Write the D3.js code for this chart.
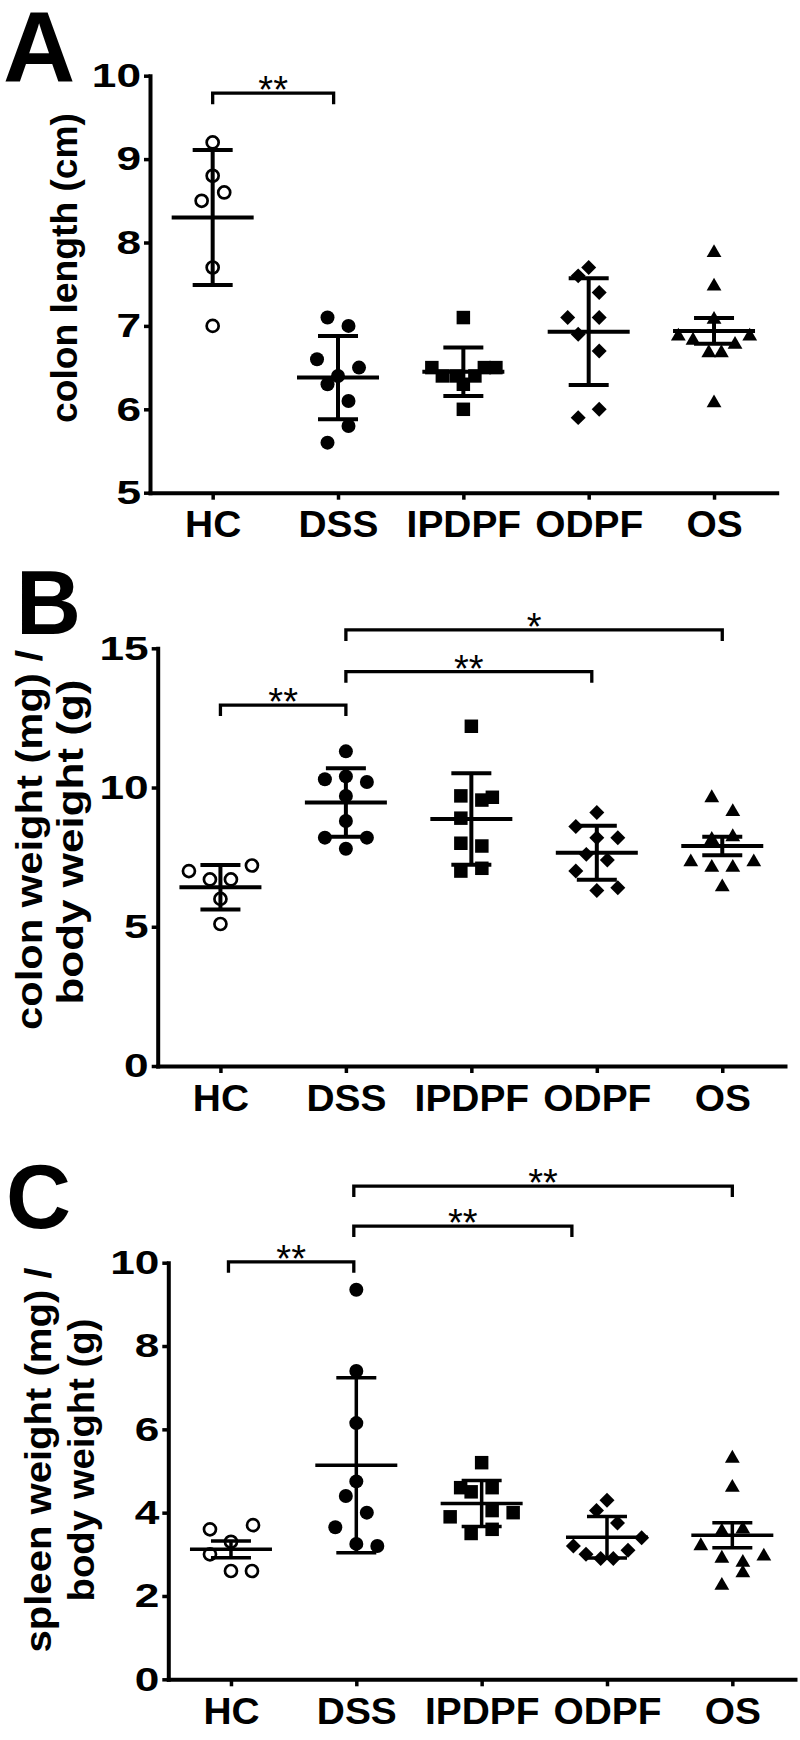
<!DOCTYPE html>
<meta charset="utf-8">
<html>
<head>
<script src="https://cdn.jsdelivr.net/npm/d3@7"></script>
<style>
  body { margin: 0; background: #fff; }
  svg text { font-family: "Liberation Sans", Arial, Helvetica, sans-serif; fill: #000; }
</style>
</head>
<body>
<div id="chart"></div>
<script>
// groups on the x axis
var groups = ["HC", "DSS", "IPDPF", "ODPF", "OS"];

// ---- A: colon length (cm) -- each point is [value, lane] (lane = slot in the scatter row)
var lenHC    = [[9.2,0],[8.8,0],[8.6,1.1],[8.5,-1.05],[7.7,0],[7.0,0]];
var lenDSS   = [[7.1,-1],[7.0,1],[6.6,-2],[6.5,2],[6.4,0],[6.3,-1],[6.1,1],[5.8,1],[5.6,-1]];
var lenIPDPF = [[7.1,0],[6.5,-3],[6.5,2],[6.5,3.1],[6.4,-2],[6.4,-0.7],[6.4,1.1],[6.3,0],[6.0,0]];
var lenODPF  = [[7.7,0],[7.6,-1],[7.4,1],[7.1,-2],[7.1,1],[6.9,-1],[6.7,1],[6.0,1],[5.9,-1]];
var lenOS    = [[7.9,0],[7.5,0],[7.1,0],[6.9,-3.4],[6.85,-2],[6.9,3.4],[6.8,2],[6.7,-0.5],[6.7,0.7],[6.1,0]];
var lenMean  = [8.30, 6.38, 6.45, 6.93, 6.94];
var lenErr   = [0.81, 0.50, 0.29, 0.64, 0.155];
var lenTicks = [5, 6, 7, 8, 9, 10];
var lenBrackets = [[0, 0.965, 9.79, "**"]];   // [from index, to index, value, label]

// ---- B: colon weight / body weight
var cwHC    = [[7.0,-3],[7.2,3],[6.7,-1],[6.7,1],[6.0,0],[5.1,0]];
var cwDSS   = [[11.3,0],[10.4,0],[10.3,-2],[10.2,2],[9.7,0],[8.8,0],[8.2,-2],[8.2,2],[7.8,0]];
var cwIPDPF = [[12.2,0],[9.7,-1],[9.55,1],[9.65,2],[8.9,-1],[8.0,-1],[7.9,1],[7.0,-1],[7.1,1]];
var cwODPF  = [[9.1,0],[8.6,-2],[8.2,2],[8.2,0],[7.6,-1],[7.4,1],[7.0,-2],[6.3,0],[6.4,2]];
var cwOS    = [[9.7,-1],[9.2,1],[8.3,1],[8.2,-1],[7.4,-3],[7.2,-1],[7.2,1],[7.4,3],[6.5,0]];
var cwMean  = [6.42, 9.46, 8.87, 7.66, 7.90];
var cwErr   = [0.80, 1.23, 1.64, 0.97, 0.33];
var cwTicks = [0, 5, 10, 15];
var cwBrackets = [[0, 1, 12.96, "**"], [1, 2.96, 14.16, "**"], [1, 4, 15.66, "*"]];

// ---- C: spleen weight / body weight
var swHC    = [[3.6,-2],[3.7,2.1],[3.3,0],[3.0,-2],[2.6,0],[2.6,2]];
var swDSS   = [[9.35,0],[7.4,0],[6.15,0],[4.75,0],[4.4,-1],[4.0,1],[3.65,-2],[3.25,0],[3.2,2]];
var swIPDPF = [[5.2,0],[4.6,-2],[4.6,1],[4.5,-1],[4.05,1],[4.0,3],[3.9,-3],[3.6,1],[3.5,-1]];
var swODPF  = [[4.3,0],[4.05,-1],[3.75,1],[3.4,3.3],[3.2,-3.2],[3.0,-2],[2.9,-0.6],[2.9,0.6],[3.1,2]];
var swOS    = [[5.35,0],[4.65,0],[3.6,-1],[3.65,1],[3.25,-3],[3.0,3],[2.95,-1],[2.85,1],[2.6,1],[2.3,-1]];
var swMean  = [3.12, 5.14, 4.22, 3.41, 3.46];
var swErr   = [0.20, 2.10, 0.55, 0.50, 0.30];
var swTicks = [0, 2, 4, 6, 8, 10];
var swBrackets = [[-0.02, 0.98, 10.02, "**"], [0.98, 2.72, 10.88, "**"], [0.98, 4, 11.84, "**"]];

var LANE = 10.5;

var svg = d3.select("#chart").append("svg")
    .attr("width", 800)
    .attr("height", 1740);

// widen text along its reading direction
function stretch(sel, k) {
  sel.each(function() {
    var w = this.getComputedTextLength();
    d3.select(this).attr("textLength", w * k).attr("lengthAdjust", "spacingAndGlyphs");
  });
}

function marker(g, group, cx, cy) {
  if (group == "HC") {
    g.append("circle").attr("cx", cx).attr("cy", cy).attr("r", 6)
      .attr("fill", "#fff").attr("stroke", "#000").attr("stroke-width", 2.7);
  } else if (group == "DSS") {
    g.append("circle").attr("cx", cx).attr("cy", cy).attr("r", 7).attr("fill", "#000");
  } else if (group == "IPDPF") {
    g.append("path").attr("d", d3.symbol(d3.symbolSquare, 182)())
      .attr("transform", "translate(" + cx + "," + cy + ")");
  } else if (group == "ODPF") {
    g.append("path").attr("d", d3.symbol(d3.symbolSquare, 112)())
      .attr("transform", "translate(" + cx + "," + cy + ") rotate(45)");
  } else {
    g.append("path").attr("d", d3.symbol(d3.symbolTriangle, 95)())
      .attr("transform", "translate(" + cx + "," + (cy + 2) + ")");
  }
}

function drawPanel(p) {
  var g = svg.append("g");
  var x = d3.scalePoint().domain(groups).range(p.xRange).padding(0.5);
  var y = d3.scaleLinear().domain(p.yDomain).range(p.yRange);
  var x0 = p.xRange[0], yBase = p.yRange[0];

  // axes
  var ya = g.append("g").attr("transform", "translate(" + x0 + ",0)")
    .call(d3.axisLeft(y).tickValues(p.ticks).tickFormat(d3.format("d"))
      .tickSize(6).tickSizeOuter(0).tickPadding(3));
  var xa = g.append("g").attr("transform", "translate(0," + yBase + ")")
    .call(d3.axisBottom(x).tickSize(7).tickSizeOuter(0).tickPadding(12));
  [ya, xa].forEach(function(a) {
    a.select(".domain").attr("stroke-width", 4).attr("stroke-linecap", "square");
    a.selectAll(".tick line").attr("stroke-width", 3.5);
    a.selectAll("text").attr("font-weight", "bold").attr("fill", "#000");
  });
  ya.selectAll("text").attr("font-size", 34).call(stretch, 1.3);
  xa.selectAll("text").attr("font-size", 36).call(stretch, 1.08);

  // points
  p.points.forEach(function(arr, i) {
    arr.forEach(function(d) {
      marker(g, groups[i], x(groups[i]) + d[1] * LANE, y(d[0]));
    });
  });

  // mean and error bars, drawn over the points
  groups.forEach(function(name, i) {
    var cx = x(name), m = p.mean[i], e = p.err[i];
    var lines = [
      [cx, y(m - e), cx, y(m + e)],
      [cx - 20, y(m + e), cx + 20, y(m + e)],
      [cx - 20, y(m - e), cx + 20, y(m - e)],
      [cx - 41, y(m), cx + 41, y(m)]
    ];
    lines.forEach(function(l) {
      g.append("line").attr("x1", l[0]).attr("y1", l[1]).attr("x2", l[2]).attr("y2", l[3])
        .attr("stroke", "#000").attr("stroke-width", p.lineW);
    });
  });

  // significance brackets
  var start = x(groups[0]), step = x.step();
  p.brackets.forEach(function(b) {
    var xa1 = start + b[0] * step, xa2 = start + b[1] * step, yb = y(b[2]);
    g.append("path")
      .attr("d", "M" + xa1 + "," + (yb + 11) + "V" + yb + "H" + xa2 + "V" + (yb + 11))
      .attr("fill", "none").attr("stroke", "#000").attr("stroke-width", 3.3);
    g.append("text").attr("x", (xa1 + xa2) / 2).attr("y", yb + 10)
      .attr("text-anchor", "middle").attr("font-size", 38).text(b[3]);
  });

  // panel letter
  g.append("text").attr("x", p.letter[1]).attr("y", p.letter[2])
    .attr("font-size", p.letter[3]).attr("font-weight", "bold").text(p.letter[0]);

  // y title (rotated, one line per entry)
  p.title.forEach(function(t) {
    g.append("text")
      .attr("transform", "translate(" + t[1] + "," + t[2] + ") rotate(-90)")
      .attr("text-anchor", "middle").attr("font-weight", "bold")
      .attr("font-size", t[3]).attr("textLength", t[4]).attr("lengthAdjust", "spacingAndGlyphs")
      .text(t[0]);
  });
}

drawPanel({
  xRange: [150, 776.7], yRange: [492.7, 75.7], yDomain: [5, 10], ticks: lenTicks,
  points: [lenHC, lenDSS, lenIPDPF, lenODPF, lenOS], mean: lenMean, err: lenErr,
  brackets: lenBrackets, lineW: 4,
  letter: ["A", 3, 82, 100],
  title: [["colon length (cm)", 77, 268, 36, 310]]
});

drawPanel({
  xRange: [157.7, 785], yRange: [1066, 648.3], yDomain: [0, 15], ticks: cwTicks,
  points: [cwHC, cwDSS, cwIPDPF, cwODPF, cwOS], mean: cwMean, err: cwErr,
  brackets: cwBrackets, lineW: 4,
  letter: ["B", 16, 634, 90],
  title: [["colon weight (mg) /", 42, 840, 36, 380], ["body weight (g)", 83, 842, 36, 325]]
});

drawPanel({
  xRange: [168.3, 795], yRange: [1679.3, 1262.7], yDomain: [0, 10], ticks: swTicks,
  points: [swHC, swDSS, swIPDPF, swODPF, swOS], mean: swMean, err: swErr,
  brackets: swBrackets, lineW: 3.5,
  letter: ["C", 6, 1228, 90],
  title: [["spleen weight (mg) /", 51, 1460, 37, 385], ["body weight (g)", 94, 1460, 37, 283]]
});
</script>
</body>
</html>
